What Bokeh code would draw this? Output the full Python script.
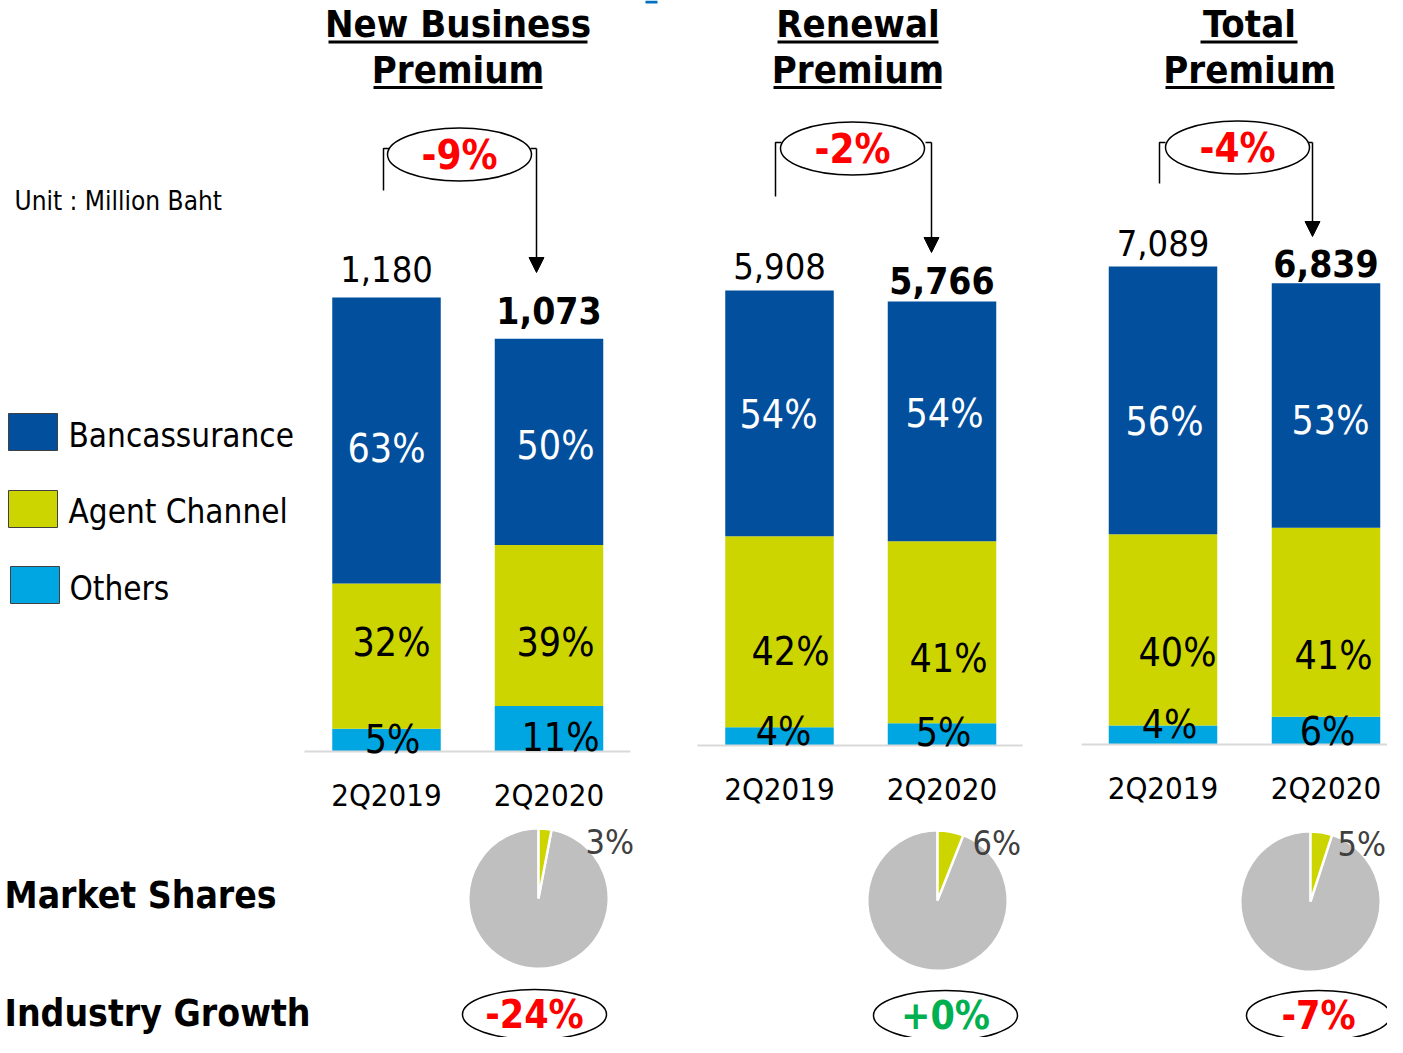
import math
from bokeh.plotting import figure
from bokeh.models import Range1d, ColumnDataSource, Arrow, NormalHead
from bokeh.core.properties import value
from bokeh.embed import file_html
from bokeh.resources import INLINE

# ---------------- data ----------------
panel_line1 = ["New Business", "Renewal", "Total"]
panel_line2 = ["Premium", "Premium", "Premium"]
periods = ["2Q2019", "2Q2020"]
channels = ["Bancassurance", "Agent Channel", "Others"]

nb_total = [1180, 1073]
nb_banca_pct = [63, 50]
nb_agent_pct = [32, 39]
nb_others_pct = [5, 11]

ren_total = [5908, 5766]
ren_banca_pct = [54, 54]
ren_agent_pct = [42, 41]
ren_others_pct = [4, 5]

tot_total = [7089, 6839]
tot_banca_pct = [56, 53]
tot_agent_pct = [40, 41]
tot_others_pct = [4, 6]

yoy_change = ["-9%", "-2%", "-4%"]
market_share_pct = [3, 6, 5]
industry_growth = ["-24%", "+0%", "-7%"]

# ---------------- style / layout ----------------
FONT = "DejaVu Sans Condensed"
BLUE, YELLOW, CYAN = "#024F9D", "#CCD500", "#00A6E1"
PIE_GREY = "#BFBFBF"
W, H = 1387, 1037

baseline_y = [751, 745, 744]
first_bar_px = [454, 455, 478]
bar_x = [(386, 548.5), (779, 941.5), (1162.5, 1325.5)]
bar_w = 108.5
axis_line_x = [(304, 630), (697, 1022), (1081, 1403)]
title_x = [457.5, 857.5, 1249]
title_y = [23, 69]
ul1 = [(328, 587), (777, 938), (1200, 1297)]
ul2 = [(373, 542), (773, 941), (1165, 1334)]
# label nudges (px) per group: [bar1, bar2]
banca_dx = [(0, 6.5), (-1, 2.5), (1.5, 4.5)]
banca_dy = [(7.5, 3.5), (1, -8), (21, 14.5)]
agent_dx = [(5, 6.5), (11, 6.5), (14.5, 7.5)]
agent_dy = [(-13.5, 17), (19.5, 26), (23, 33.5)]
others_dx = [(6, 11.5), (4, 1.5), (6.5, 1.5)]
others_dy = [(-12, -14), (-14, -13), (-20, -13)]
value_dy = [(-29, -28), (-25, -21), (-23.5, -19.5)]

bracket_lx = [383, 775, 1159]
bracket_rx = [536, 931, 1312]
bracket_top = [148, 142, 142]
bracket_lbottom = [190, 196, 183]
arrow_tip = [272, 252, 236]
oval_xy = [(459, 154), (852, 148), (1237, 147)]

pie_xy = [(538, 898), (937, 900), (1310, 901)]
pie_r = 70
pie_lab_xy = [(585, 841), (972, 842), (1337, 843)]
ig_xy = [(534, 1014), (945, 1015), (1318, 1015)]

p = figure(width=W, height=H, x_range=Range1d(0, W), y_range=Range1d(H, 0),
           output_backend="svg", toolbar_location=None, min_border=0,
           x_axis_location=None, y_axis_location=None)
p.grid.visible = False
p.outline_line_color = None
p.background_fill_color = "white"

# small blue mark at the top edge
p.quad(left=[645], right=[657], top=[0], bottom=[3], fill_color="#0070C0", line_color=None)

groups = [
    (nb_total, nb_banca_pct, nb_agent_pct, nb_others_pct),
    (ren_total, ren_banca_pct, ren_agent_pct, ren_others_pct),
    (tot_total, tot_banca_pct, tot_agent_pct, tot_others_pct),
]

for g, (totals, bp, ap, op) in enumerate(groups):
    name = f"g{g}"
    b = baseline_y[g]
    k = first_bar_px[g] / totals[0]
    p.extra_y_ranges[name] = Range1d(start=-(H - b) / k, end=b / k)

    xs, bots, tops, cols = [], [], [], []
    lx, ly, lt, lc, ldx, ldy = [], [], [], [], [], []
    for i in range(2):
        t = totals[i]
        o = t * op[i] / 100
        a = t * ap[i] / 100
        bb = t * bp[i] / 100
        segs = [(0, o, CYAN), (o, o + a, YELLOW), (o + a, o + a + bb, BLUE)]
        for (s0, s1, c) in segs:
            xs.append(bar_x[g][i]); bots.append(s0); tops.append(s1); cols.append(c)
        lx += [bar_x[g][i]] * 3
        ly += [0, o + a / 2, o + a + bb / 2]
        lt += [f"{op[i]}%", f"{ap[i]}%", f"{bp[i]}%"]
        lc += ["black", "black", "white"]
        ldx += [others_dx[g][i], agent_dx[g][i], banca_dx[g][i]]
        ldy += [others_dy[g][i], agent_dy[g][i], banca_dy[g][i]]

    p.vbar(x=xs, width=bar_w, bottom=bots, top=tops, fill_color=cols, line_color=None,
           y_range_name=name)
    p.segment(x0=[axis_line_x[g][0]], y0=[0], x1=[axis_line_x[g][1]], y1=[0],
              line_color="#D9D9D9", line_width=2, y_range_name=name)
    src = ColumnDataSource(dict(x=lx, y=ly, text=lt, color=lc, dx=ldx, dy=ldy))
    p.text(x="x", y="y", text="text", text_color="color", x_offset="dx", y_offset="dy",
           source=src, text_align="center", text_baseline="middle",
           text_font=value(FONT), text_font_size="39px", y_range_name=name)

    # total value labels
    p.text(x=[bar_x[g][0]], y=[totals[0]], text=[f"{totals[0]:,}"], y_offset=[value_dy[g][0]],
           text_align="center", text_baseline="middle", text_font=value(FONT),
           text_font_size="36px", text_color="black", y_range_name=name)
    p.text(x=[bar_x[g][1]], y=[totals[1]], text=[f"{totals[1]:,}"], y_offset=[value_dy[g][1]],
           text_align="center", text_baseline="middle", text_font=value(FONT),
           text_font_size="37px", text_font_style="bold", text_color="black", y_range_name=name)

    # period labels
    p.text(x=list(bar_x[g]), y=[0, 0], text=periods, y_offset=43,
           text_align="center", text_baseline="middle", text_font=value(FONT),
           text_font_size="31px", text_color="black", y_range_name=name)

    # titles with underline
    p.text(x=[title_x[g], title_x[g]], y=title_y, text=[panel_line1[g], panel_line2[g]],
           text_align="center", text_baseline="middle", text_font=value(FONT),
           text_font_size="38px", text_font_style="bold", text_color="black")
    p.segment(x0=[ul1[g][0], ul2[g][0]], y0=[41.5, 87], x1=[ul1[g][1], ul2[g][1]], y1=[41.5, 87],
              line_color="black", line_width=3)

    # bracket + arrow for YoY change
    lxb, rxb, tp = bracket_lx[g], bracket_rx[g], bracket_top[g]
    p.multi_line(xs=[[lxb, lxb, lxb + 6], [rxb - 6, rxb]],
                 ys=[[bracket_lbottom[g], tp, tp], [tp, tp]],
                 line_color="black", line_width=1.5)
    p.add_layout(Arrow(end=NormalHead(size=15, fill_color="black", line_color="black"),
                       x_start=rxb, y_start=tp, x_end=rxb, y_end=arrow_tip[g],
                       line_color="black", line_width=1.5))
    p.ellipse(x=[oval_xy[g][0]], y=[oval_xy[g][1]], width=144, height=53,
              width_units="screen", height_units="screen",
              fill_color="white", line_color="black", line_width=1.5)
    p.text(x=[oval_xy[g][0]], y=[oval_xy[g][1]], text=[yoy_change[g]],
           text_align="center", text_baseline="middle", text_font=value(FONT),
           text_font_size="40px", text_font_style="bold", text_color="#FF0000")

    # market share pie
    s = market_share_pct[g] / 100 * 2 * math.pi
    cx, cy = pie_xy[g]
    p.wedge(x=[cx], y=[cy], radius=pie_r, radius_units="screen",
            start_angle=[math.pi / 2], end_angle=[math.pi / 2 - s + 2 * math.pi],
            fill_color=PIE_GREY, line_color="white", line_width=2)
    p.wedge(x=[cx], y=[cy], radius=pie_r, radius_units="screen",
            start_angle=[math.pi / 2 - s], end_angle=[math.pi / 2],
            fill_color=YELLOW, line_color="white", line_width=2.5)
    p.text(x=[pie_lab_xy[g][0]], y=[pie_lab_xy[g][1]], text=[f"{market_share_pct[g]}%"],
           text_align="left", text_baseline="middle", text_font=value(FONT),
           text_font_size="34px", text_color="#404040")

    # industry growth oval
    ix, iy = ig_xy[g]
    p.ellipse(x=[ix], y=[iy], width=144, height=50, width_units="screen", height_units="screen",
              fill_color="white", line_color="black", line_width=1.5)
    p.text(x=[ix], y=[iy], text=[industry_growth[g]], text_align="center", text_baseline="middle",
           text_font=value(FONT), text_font_size="39px", text_font_style="bold",
           text_color="#00B050" if industry_growth[g].startswith("+") else "#FF0000")

# legend
leg_x = [32.5, 32.5, 34.5]
leg_y = [431.5, 508.5, 584.5]
p.rect(x=leg_x, y=leg_y, width=49, height=37, fill_color=[BLUE, YELLOW, CYAN],
       line_color="#404040", line_width=1)
p.text(x=[68, 68, 69], y=[435, 511, 588], text=channels, text_align="left",
       text_baseline="middle", text_font=value(FONT), text_font_size="33px", text_color="black")

# side labels
p.text(x=[14], y=[200], text=["Unit : Million Baht"], text_align="left", text_baseline="middle",
       text_font=value(FONT), text_font_size="26px", text_color="black")
p.text(x=[4], y=[895], text=["Market Shares"], text_align="left",
       text_baseline="middle", text_font=value(FONT), text_font_size="37px",
       text_font_style="bold", text_color="black")
p.text(x=[4], y=[1013], text=["Industry Growth"], text_align="left",
       text_baseline="middle", text_font=value(FONT), text_font_size="37px",
       text_font_style="bold", text_color="black")

open("out.html", "w").write(file_html(p, INLINE))
